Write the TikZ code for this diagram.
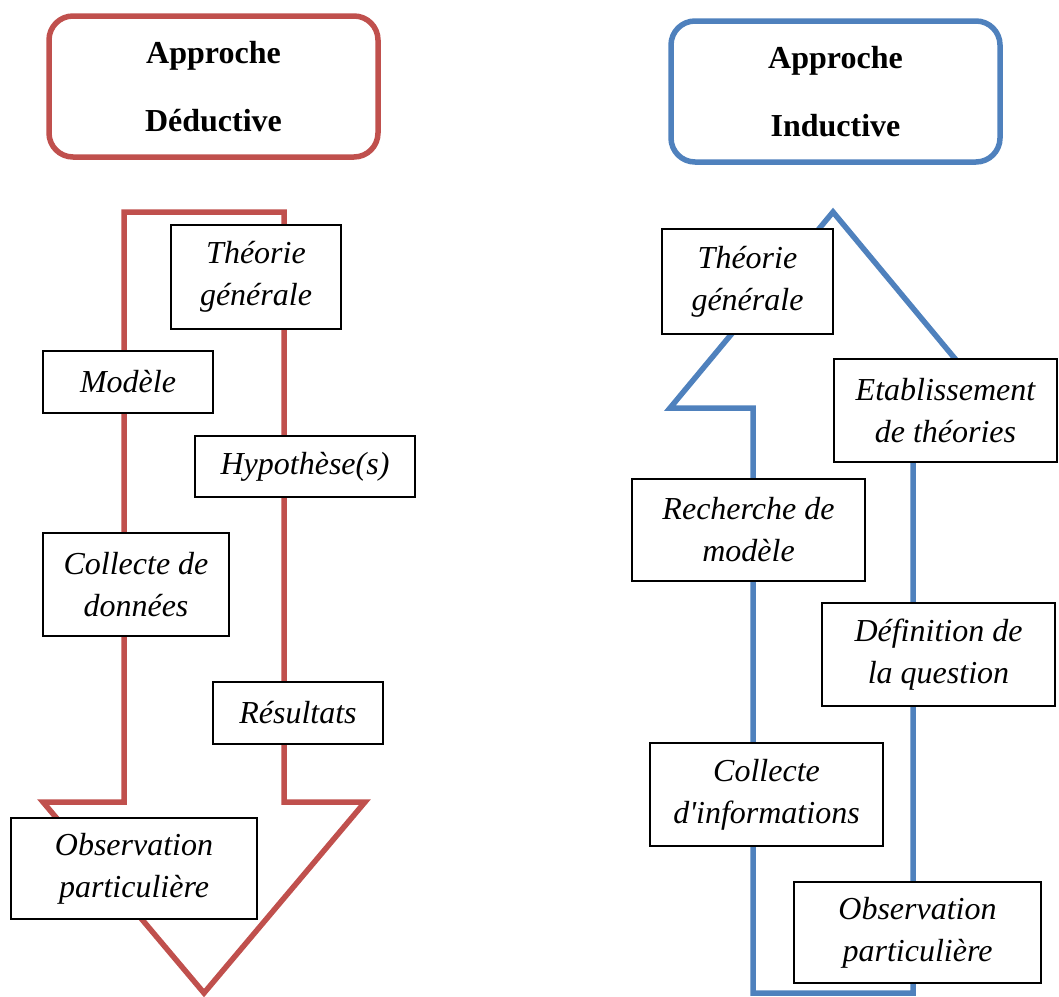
\documentclass[tikz,border=0pt]{standalone}
\usepackage{fontspec}
\setmainfont{Liberation Serif}[Ligatures=TeXOff]
\usepackage{xcolor}
\usepackage{tikz}
\definecolor{dedstroke}{RGB}{192,80,77}
\definecolor{indstroke}{RGB}{79,129,189}
\tikzset{
  titlebox/.style={
    draw=#1, line width=5.5pt, rounded corners=24pt, fill=white,
    minimum width=329pt, minimum height=141pt, inner sep=0pt,
    align=center, font=\fontsize{32}{68}\selectfont\bfseries,
  },
  stepbox/.style={
    draw=black, line width=1.6pt, fill=white, inner sep=0pt,
    align=center, font=\fontsize{32}{42}\selectfont\itshape,
  },
  bigarrow/.style={draw=#1, line width=5.5pt, line join=miter, miter limit=10},
}
\begin{document}
\begin{tikzpicture}[x=1pt,y=-1pt]
  \useasboundingbox (0,0) rectangle (1059,996);

  % Titles
  \node[titlebox=dedstroke] (ded) at (213.5,86.5) {Approche\\Déductive};
  \node[titlebox=indstroke] (ind) at (835.5,91.5) {Approche\\Inductive};

  % Big arrows (down for deduction, up for induction)
  \draw[bigarrow=dedstroke] (124,212) -- (284,212) -- (284,802) -- (365,802)
    -- (204,993) -- (43,802) -- (124,802) -- cycle;
  \draw[bigarrow=indstroke] (753,993) -- (753,408) -- (670,408) -- (833,212)
    -- (996,408) -- (913,408) -- (913,993) -- cycle;

  % Deductive steps
  \node[stepbox, minimum width=170pt, minimum height=104pt] (dtheo) at (256,277) {Théorie\\générale};
  \node[stepbox, minimum width=170pt, minimum height=62pt] (dmodele) at (128,382) {Modèle};
  \node[stepbox, minimum width=220pt, minimum height=61pt] (dhypo) at (305,466.5) {Hypothèse(s)};
  \node[stepbox, minimum width=186pt, minimum height=103pt] (dcollecte) at (136,584.5) {Collecte de\\données};
  \node[stepbox, minimum width=170pt, minimum height=62pt] (dresult) at (298,713) {Résultats};
  \node[stepbox, minimum width=246pt, minimum height=101pt] (dobs) at (134,868.5) {Observation\\particulière};

  % Inductive steps
  \node[stepbox, minimum width=171pt, minimum height=105pt] (itheo) at (747.5,281.5) {Théorie\\générale};
  \node[stepbox, minimum width=223pt, minimum height=103pt] (ietab) at (945.5,410.5) {Etablissement\\de théories};
  \node[stepbox, minimum width=233pt, minimum height=102pt] (irech) at (748.5,530) {Recherche de\\modèle};
  \node[stepbox, minimum width=233pt, minimum height=103pt] (idef) at (938.5,654.5) {Définition de\\la question};
  \node[stepbox, minimum width=233pt, minimum height=103pt] (icoll) at (766.5,794.5) {Collecte\\d'informations};
  \node[stepbox, minimum width=247pt, minimum height=101pt] (iobs) at (917.5,932.5) {Observation\\particulière};
\end{tikzpicture}
\end{document}
